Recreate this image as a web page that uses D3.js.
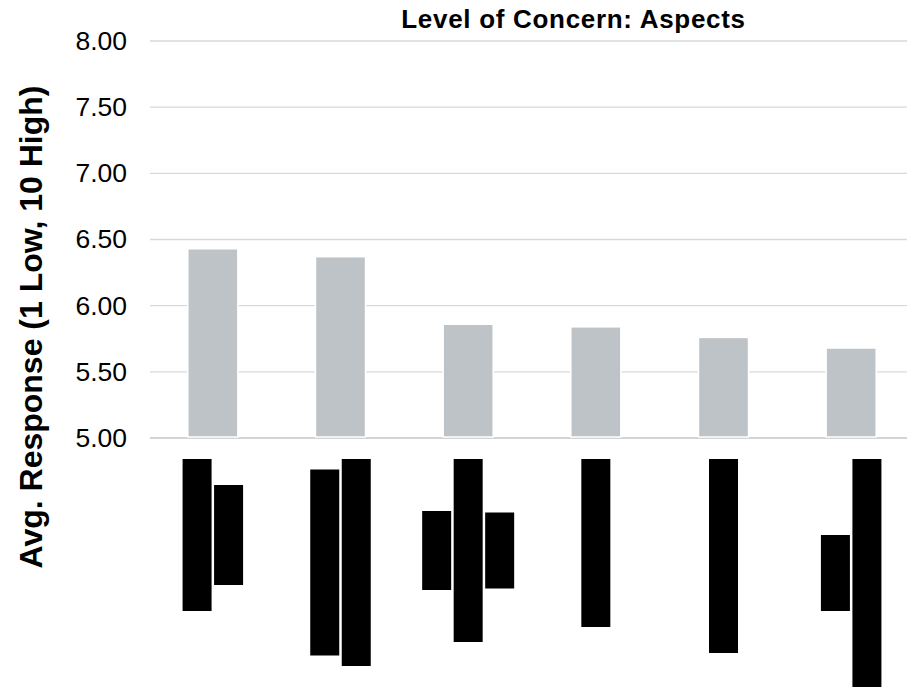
<!DOCTYPE html>
<html>
<head>
<meta charset="utf-8">
<script src="https://cdn.jsdelivr.net/npm/d3@7"></script>
<style>
  html, body { margin: 0; padding: 0; background: #fff; }
  svg { display: block; font-family: "Liberation Sans", Arial, Helvetica, sans-serif; }
</style>
</head>
<body>
<div id="chart"></div>
<script>
// Average concern score per aspect (scale 1 = low, 10 = high)
const categories = ["Aspect 1", "Aspect 2", "Aspect 3", "Aspect 4", "Aspect 5", "Aspect 6"];
const avgResponse = [6.43, 6.37, 5.86, 5.84, 5.76, 5.68];
const yTicks = [5.0, 5.5, 6.0, 6.5, 7.0, 7.5, 8.0];

// Category labels are blacked out; each entry lists the length of every
// rotated label line (in px) that is covered by a black bar.
const redactedLabelLines = [
  [152, 100],
  [186, 207],
  [79, 183, 76],
  [168],
  [194],
  [76, 228]
];

const W = 907, H = 687;
const svg = d3.select("#chart").append("svg")
  .attr("width", W).attr("height", H)
  .attr("viewBox", `0 0 ${W} ${H}`);

const x = d3.scaleBand()
  .domain(categories)
  .range([149, 915])
  .paddingInner(0.608)
  .paddingOuter(0.304);

const y = d3.scaleLinear().domain([5, 8]).range([438, 41]);

// Horizontal gridlines
svg.append("g")
  .selectAll("line")
  .data(yTicks)
  .join("line")
  .attr("x1", 150).attr("x2", W)
  .attr("y1", d => y(d)).attr("y2", d => y(d))
  .attr("stroke", d => d === 5 ? "#c4c4c8" : "#d9d9d9")
  .attr("stroke-width", d => d === 5 ? 1.6 : 1.3);

// Y axis tick labels (no domain line, no tick marks)
const yAxis = d3.axisLeft(y)
  .tickValues(yTicks)
  .tickFormat(d3.format(".2f"))
  .tickSize(0)
  .tickPadding(0);

const gy = svg.append("g")
  .attr("transform", "translate(127,0)")
  .call(yAxis);
gy.select(".domain").remove();
gy.selectAll("text")
  .attr("font-size", 26.5)
  .attr("fill", "#000")
  .attr("font-family", "Liberation Sans, Arial, sans-serif");

// Bars
svg.append("g")
  .selectAll("rect")
  .data(avgResponse)
  .join("rect")
  .attr("x", (d, i) => x(categories[i]))
  .attr("width", x.bandwidth())
  .attr("y", d => y(d))
  .attr("height", d => y(5) - y(d) - 1)
  .attr("fill", "#bec3c7")
  .attr("stroke", "#ffffff")
  .attr("stroke-width", 1.5);

// Blacked-out category labels (rotated lines, centered under each bar)
const linePitch = 31.5, lineThick = 29, labelTop = 459;
const lab = svg.append("g");
redactedLabelLines.forEach((lines, i) => {
  const cx = x(categories[i]) + x.bandwidth() / 2;
  const longest = d3.max(lines);
  const midY = labelTop + longest / 2;
  const n = lines.length;
  lab.append("g")
    .selectAll("rect")
    .data(lines)
    .join("rect")
    .attr("x", (len, j) => cx + (j - (n - 1) / 2) * linePitch - lineThick / 2)
    .attr("width", lineThick)
    .attr("y", len => midY - len / 2)
    .attr("height", len => len)
    .attr("fill", "#000");
});

// Chart title
svg.append("text")
  .attr("x", 573.5).attr("y", 28)
  .attr("text-anchor", "middle")
  .attr("font-size", 26)
  .attr("font-weight", "bold")
  .attr("letter-spacing", 0.7)
  .attr("fill", "#000")
  .text("Level of Concern: Aspects");

// Y axis title
svg.append("text")
  .attr("transform", "translate(42,327) rotate(-90)")
  .attr("text-anchor", "middle")
  .attr("font-size", 32)
  .attr("font-weight", "bold")
  .attr("fill", "#000")
  .text("Avg. Response (1 Low, 10 High)");
</script>
</body>
</html>
